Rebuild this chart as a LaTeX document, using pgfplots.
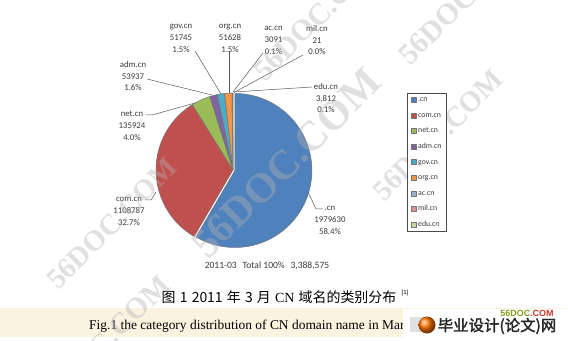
\documentclass[border=0pt]{standalone}
\usepackage{fontspec}
\setmainfont{Carlito}
\newfontfamily\cjk{Noto Sans CJK SC}
\newfontfamily\cjkbold[FakeBold=2]{Noto Sans CJK SC}
\newfontfamily\tnr{Liberation Serif}
\newfontfamily\arial{Liberation Sans}
\usepackage{pgfplots}
\pgfplotsset{compat=1.18}
\definecolor{c1}{HTML}{4F81BD}
\definecolor{c2}{HTML}{C0504D}
\definecolor{c3}{HTML}{9BBB59}
\definecolor{c4}{HTML}{8064A2}
\definecolor{c5}{HTML}{4BACC6}
\definecolor{c6}{HTML}{F79646}
\definecolor{c7}{HTML}{95B3D7}
\definecolor{c8}{HTML}{D99694}
\definecolor{c9}{HTML}{C3D69B}
\definecolor{band}{HTML}{FBF2E0}
\definecolor{txt}{HTML}{3A3A3A}
\def\tot{3388575}
\def\cx{233}\def\cy{171}\def\r{77}
\gdef\cum{0}
\newcommand\slice[4]{%
  \edef\angA{\fpeval{round(90-360*\cum/\tot,5)}}%
  \xdef\cum{\fpeval{\cum+#1}}%
  \edef\angB{\fpeval{round(90-360*\cum/\tot,5)}}%
  \edef\doplot{\noexpand\addplot[draw=black!55, line width=0.5pt, fill=#2, line join=round, domain=\angB:\angA, samples=90] ({\cx+#3+\r*cos(x)},{\cy+#4+\r*sin(x)}) -- (\fpeval{\cx+#3},\fpeval{\cy+#4}) -- cycle;}%
  \doplot}
\begin{document}
\begin{tikzpicture}
\begin{axis}[
  scale only axis, width=568bp, height=341bp,
  xmin=0, xmax=568, ymin=0, ymax=341,
  hide axis, clip=false,
  legend entries={.cn,com.cn,net.cn,adm.cn,gov.cn,org.cn,ac.cn,mil.cn,edu.cn},
  legend style={at={(0.7174,0.7273)}, anchor=north west, draw=black!70, line width=0.6pt, fill=white,
    font=\fontsize{7.8}{8}\selectfont\color{txt}, inner xsep=3.5bp, inner ysep=3.5bp, row sep=9.6bp,
    nodes={inner xsep=1.5bp, inner ysep=0pt, text height=5bp, text depth=1bp, anchor=west}},
  legend cell align=left,
  legend image code/.code={\draw[#1, line width=0.4pt] (0bp,-2.5bp) rectangle (5bp,2.5bp);},
]
\fill[white] (0,0) rectangle (568,341);
\slice{1979630}{c1}{1.9}{-0.5}
\slice{1108787}{c2}{0}{0}
\slice{135924}{c3}{0}{0}
\slice{53937}{c4}{0}{0}
\slice{51745}{c5}{0}{0}
\slice{51628}{c6}{0}{0}
\slice{3091}{c7}{0}{0}
\slice{21}{c8}{0}{0}
\slice{3812}{c9}{0}{0}
% leader lines
\draw[black!65, line width=0.5pt] (195,290) -- (221,247);
\draw[black!65, line width=0.5pt] (229,290) -- (229,248);
\draw[black!65, line width=0.5pt] (263,288) -- (233,249);
\draw[black!65, line width=0.5pt] (303,286) -- (234,248.5);
\draw[black!65, line width=0.5pt] (147,262) -- (212,246);
\draw[black!65, line width=0.5pt] (146,226) -- (152,226) -- (195,238);
\draw[black!65, line width=0.5pt] (145,141) -- (151,141) -- (156,149);
\draw[black!65, line width=0.5pt] (308,149) -- (316,132) -- (323,132);
\draw[black!65, line width=0.5pt] (312,254) -- (234,249);
% labels
\begin{scope}[every node/.style={text=txt, font=\fontsize{8.8}{12}\selectfont, align=center, inner sep=0pt}]
\node at (181,303) {gov.cn\\51745\\1.5\%};
\node at (230,303) {org.cn\\51628\\1.5\%};
\node at (273.5,301) {ac.cn\\3091\\0.1\%};
\node at (317,301) {mil.cn\\21\\0.0\%};
\node at (133,265) {adm.cn\\53937\\1.6\%};
\node at (132,215) {net.cn\\135924\\4.0\%};
\node at (129,130) {com.cn\\1108787\\32.7\%};
\node at (330,121) {.cn\\1979630\\58.4\%};
\node at (326,243) {edu.cn\\3,812\\0.1\%};
\node[font=\fontsize{9.6}{12}\selectfont] at (267,75) {2011-03\hspace{0.6em}Total 100\%\hspace{0.6em}3,388,575};
\end{scope}
% caption
\node[text=black, font=\fontsize{14}{16}\selectfont, inner sep=0pt] at (279,44) {\cjk 图\hspace{0.3em}1\hspace{0.3em}2011\hspace{0.3em}年\hspace{0.3em}3\hspace{0.3em}月\hspace{0.3em}{\tnr CN}\hspace{0.3em}域名的类别分布};
\node[text=black, font=\fontsize{6}{7}\selectfont, inner sep=0pt] at (405,48) {\arial [1]};
\fill[band] (0,4) rectangle (568,33);
\node[text=black, font=\fontsize{13.5}{15}\selectfont\tnr, anchor=west, inner sep=0pt] at (89,14.5) {Fig.1 the category distribution of CN domain name in March 2011};
\fill[white] (403,4) rectangle (568,32);
\fill[black!12] (410,9) rectangle (424,24);
\shade[ball color=orange!90!red] (427,16) circle (8.5);
\node[font=\fontsize{9}{10}\selectfont\arial\bfseries, inner sep=0pt] at (527,28) {\textcolor[HTML]{8C9A1E}{56DOC}\textcolor[HTML]{C8372D}{.COM}};
\node[text=black!85, font=\fontsize{15.5}{17}\selectfont, inner sep=0pt] at (497,15) {\cjkbold 毕业设计(论文)网};
% watermarks
\begin{scope}[every node/.style={text=black!30, opacity=0.4, rotate=45, inner sep=0pt}]
\node[font=\fontsize{29}{30}\selectfont\tnr\bfseries] at (112,117.5) {56DOC.COM};
\node[font=\fontsize{42}{44}\selectfont\tnr\bfseries] at (286,178) {56DOC.COM};
\node[font=\fontsize{30}{32}\selectfont\tnr\bfseries] at (321,328) {56DOC.COM};
\node[font=\fontsize{30}{32}\selectfont\tnr\bfseries] at (466,344) {56DOC.COM};
\node[font=\fontsize{29}{30}\selectfont\tnr\bfseries] at (438,206) {56DOC.COM};
\node[font=\fontsize{30}{32}\selectfont\tnr\bfseries] at (103,-2) {56DOC.COM};
\end{scope}
\end{axis}
\pgfresetboundingbox
\path (current axis.south west) rectangle (current axis.north east);
\end{tikzpicture}
\end{document}
